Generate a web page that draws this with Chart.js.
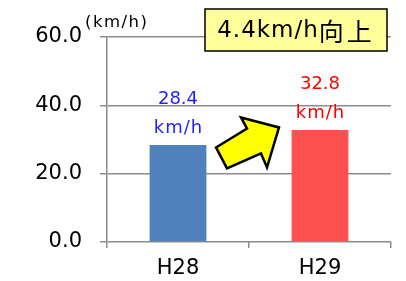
<!DOCTYPE html>
<html>
<head>
<meta charset="utf-8">
<script src="https://cdn.jsdelivr.net/npm/chart.js@4/dist/chart.umd.min.js"></script>
<style>
  html, body { margin: 0; padding: 0; background: #fff; }
  #wrap { width: 406px; height: 281px; }
</style>
</head>
<body>
<div id="wrap"><canvas id="c"></canvas></div>
<script>
const categories = ['H28', 'H29'];
const speeds = [28.4, 32.8];
const barColors = ['#4F81BD', '#FF5050'];
const labelColors = ['#1F1FFF', '#FF0000'];
const yTicks = [0, 20, 40, 60];
const unitText = '(km/h)';
const boxLatin = '4.4km/h';
const boxCjk = '向上';

const FONT = '"DejaVu Sans", "Noto Sans CJK JP", sans-serif';

// value labels above each bar, two lines
const valueLabels = {
  id: 'valueLabels',
  afterDatasetsDraw(chart) {
    const ctx = chart.ctx;
    const meta = chart.getDatasetMeta(0);
    ctx.save();
    ctx.font = '18px ' + FONT;
    ctx.textAlign = 'center';
    ctx.textBaseline = 'middle';
    meta.data.forEach((bar, i) => {
      ctx.fillStyle = labelColors[i];
      ctx.letterSpacing = '0px';
      ctx.fillText(speeds[i].toFixed(1), bar.x, bar.y - 46);
      ctx.letterSpacing = '1px';
      ctx.fillText('km/h', bar.x + 0.5, bar.y - 17);
    });
    ctx.restore();
  }
};

// unit text, callout box and arrow
const extras = {
  id: 'extras',
  afterDraw(chart) {
    const ctx = chart.ctx;
    const area = chart.chartArea;
    const meta = chart.getDatasetMeta(0);
    ctx.save();

    ctx.font = '16.5px ' + FONT;
    ctx.letterSpacing = '1.5px';
    ctx.fillStyle = '#000';
    ctx.textAlign = 'left';
    ctx.textBaseline = 'middle';
    ctx.fillText(unitText, area.left - 22, area.top - 14);

    // box
    const bw = 182, bh = 42;
    const bx = area.right - 4 - bw, by = 9;
    ctx.fillStyle = '#FFFF99';
    ctx.fillRect(bx, by, bw, bh);
    ctx.strokeStyle = '#000';
    ctx.lineWidth = 1.5;
    ctx.strokeRect(bx, by, bw, bh);
    ctx.fillStyle = '#000';
    ctx.font = '23px ' + FONT;
    ctx.letterSpacing = '1px';
    const w1 = ctx.measureText(boxLatin).width;
    ctx.font = '25px "Noto Sans CJK JP", sans-serif';
    ctx.letterSpacing = '3px';
    const w2 = ctx.measureText(boxCjk).width;
    let tx = bx + (bw - w1 - w2) / 2;
    const ty = by + bh / 2 + 1;
    ctx.font = '23px ' + FONT;
    ctx.letterSpacing = '1px';
    ctx.fillText(boxLatin, tx, ty);
    ctx.font = '25px "Noto Sans CJK JP", sans-serif';
    ctx.letterSpacing = '3px';
    ctx.fillText(boxCjk, tx + w1, ty);
    ctx.letterSpacing = '0px';

    // arrow between bars
    const cx = (meta.data[0].x + meta.data[1].x) / 2;
    const cy = (meta.data[0].y + meta.data[1].y) / 2;
    const pts = [[-33, 10], [-2, -9], [-8, -20], [30, -10], [18, 30], [12, 16], [-22, 31]];
    ctx.beginPath();
    pts.forEach((p, i) => {
      if (i === 0) ctx.moveTo(cx + p[0], cy + p[1]);
      else ctx.lineTo(cx + p[0], cy + p[1]);
    });
    ctx.closePath();
    ctx.fillStyle = '#FFFF00';
    ctx.fill();
    ctx.lineWidth = 2.5;
    ctx.lineJoin = 'miter';
    ctx.strokeStyle = '#000';
    ctx.stroke();

    ctx.restore();
  }
};

new Chart(document.getElementById('c'), {
  type: 'bar',
  data: {
    labels: categories,
    datasets: [{
      data: speeds,
      backgroundColor: barColors,
      barPercentage: 0.4,
      categoryPercentage: 1.0
    }]
  },
  options: {
    responsive: true,
    maintainAspectRatio: false,
    animation: false,
    layout: { padding: { top: 37, right: 15, left: 0, bottom: 0 } },
    plugins: {
      legend: { display: false },
      tooltip: { enabled: false }
    },
    scales: {
      x: {
        offset: true,
        grid: {
          offset: true,
          drawOnChartArea: false,
          color: '#8C8C8C',
          lineWidth: 1.5,
          tickLength: 6
        },
        border: { display: false },
        ticks: {
          color: '#000',
          font: { family: FONT, size: 21 },
          padding: 8
        },
        afterFit(scale) { scale.height = 39; }
      },
      y: {
        min: 0,
        max: 60,
        afterBuildTicks(scale) { scale.ticks = yTicks.map(v => ({ value: v })); },
        grid: {
          color: '#8C8C8C',
          lineWidth: 1.5,
          tickLength: 7
        },
        border: { display: true, color: '#8C8C8C', width: 1.5 },
        ticks: {
          color: '#000',
          font: { family: FONT, size: 21 },
          padding: 18,
          callback: v => v.toFixed(1)
        },
        afterFit(scale) { scale.width = 107; }
      }
    }
  },
  plugins: [valueLabels, extras]
});
</script>
</body>
</html>
